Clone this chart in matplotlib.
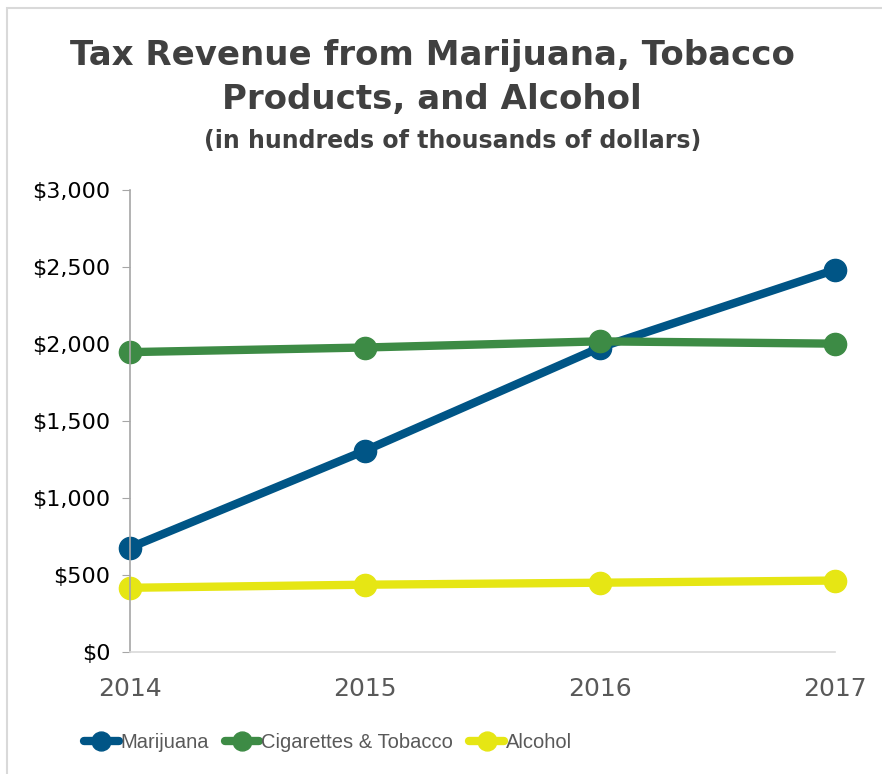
import numpy as np
import matplotlib.pyplot as plt
from matplotlib.ticker import FuncFormatter
from matplotlib.patches import Rectangle

years = ["2014", "2015", "2016", "2017"]
marijuana = [675, 1305, 1975, 2480]
tobacco = [1945, 1975, 2015, 2000]
alcohol = [415, 435, 448, 462]

series = [("Marijuana", marijuana, "#005586"),
          ("Cigarettes & Tobacco", tobacco, "#3d8b45"),
          ("Alcohol", alcohol, "#e6e614")]

plt.rcParams['font.family'] = ['DejaVu Sans']

fig = plt.figure(figsize=(8.82, 7.74), dpi=100)
fig.patches.append(Rectangle((0.008, -0.01), 1.0, 1.0, transform=fig.transFigure,
                             fill=False, edgecolor="#d9d9d9", lw=1.5))
ax = fig.add_axes([0.147, 0.158, 0.80, 0.597])

x = np.arange(len(years))
for name, vals, col in series:
    ax.plot(x, vals, color=col, lw=6, marker="o", ms=16, label=name,
            clip_on=False, solid_capstyle="round")

ax.set_xlim(0, 3)
ax.set_ylim(0, 3000)
ax.set_yticks(np.arange(0, 3001, 500))
ax.yaxis.set_major_formatter(FuncFormatter(lambda v, p: f"${v:,.0f}"))
ax.set_xticks(x)
ax.set_xticklabels(years)

for s in ["top", "right"]:
    ax.spines[s].set_visible(False)
ax.spines["left"].set_color("#a6a6a6")
ax.spines["bottom"].set_color("#d9d9d9")
ax.spines["left"].set_linewidth(1.2)
ax.spines["bottom"].set_linewidth(1.2)
ax.tick_params(axis="y", length=6, color="#a6a6a6", labelsize=16, pad=8, labelcolor="black")
ax.tick_params(axis="x", length=0, labelsize=18, pad=18, labelcolor="#595959")

fig.text(0.49, 0.9, "Tax Revenue from Marijuana, Tobacco\nProducts, and Alcohol",
         ha="center", va="center", fontsize=24.5, fontweight="bold", color="#404040",
         linespacing=1.4)
fig.text(0.513, 0.818, "(in hundreds of thousands of dollars)", ha="center", va="center",
         fontsize=17, fontweight="bold", color="#404040")

leg = fig.legend(loc="center", bbox_to_anchor=(0.372, 0.041), ncol=3, frameon=False,
                 prop={"family": "Liberation Sans", "size": 14.5},
                 handlelength=1.7, handletextpad=0.1, columnspacing=0.8,
                 markerscale=0.85)
for t in leg.get_texts():
    t.set_color("#595959")

fig.savefig("out.png", dpi=100)
